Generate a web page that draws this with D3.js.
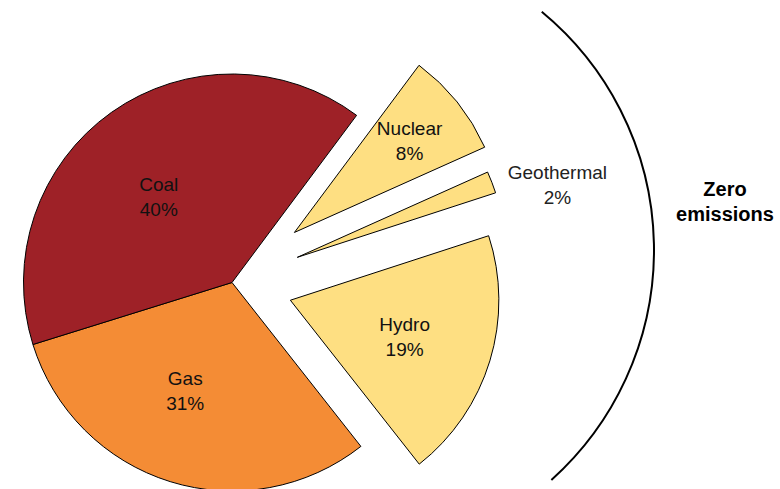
<!DOCTYPE html>
<html>
<head>
<meta charset="utf-8">
<script src="https://cdn.jsdelivr.net/npm/d3@7"></script>
<style>
  html, body { margin: 0; padding: 0; background: #fff; }
  svg { display: block; }
  text { font-family: "Liberation Sans", Arial, Helvetica, sans-serif; }
</style>
</head>
<body>
<svg id="chart" width="780" height="489"></svg>
<script>
// ---- data ----
const categories = ["Nuclear", "Geothermal", "Hydro", "Gas", "Coal"];
const shares = [8.1, 1.7, 19.4, 30.8, 40.0];
const zeroEmission = [true, true, true, false, false];
const groupLabel = ["Zero", "emissions"];

// ---- styling / layout ----
const W = 780, H = 489;
const cx = 232, cy = 282.5, R = 208.5;
const startDeg = 36.7;
const colors = { Coal: "#9e2127", Gas: "#f48c35", zero: "#fedf82" };
const explode = { Nuclear: 80, Geothermal: 70, Hydro: 61, Gas: 0, Coal: 0 };
const labelLayout = {
  Nuclear:    { r: 147, da: 0.3 },
  Geothermal: { r: 270, da: 5.5 },
  Hydro:      { r: 120, da: 0.9 },
  Gas:        { r: 118, da: 6.1 },
  Coal:       { r: 113, da: -5.1 }
};
const fontSize = 19, lineGap = 25;
const rad = d => d * Math.PI / 180;

const svg = d3.select("#chart");
const rows = categories.map((c, i) => ({ name: c, value: shares[i], zero: zeroEmission[i] }));

const pie = d3.pie().sort(null).value(d => d.value)
  .startAngle(rad(startDeg)).endAngle(rad(startDeg) + 2 * Math.PI);
const arcs = pie(rows);
const arcGen = d3.arc().innerRadius(0).outerRadius(R);

const g = svg.append("g").attr("transform", `translate(${cx},${cy})`);

const slice = g.selectAll("g.slice").data(arcs).join("g")
  .attr("class", "slice")
  .attr("transform", d => {
    const m = (d.startAngle + d.endAngle) / 2;
    const off = explode[d.data.name] || 0;
    return `translate(${off * Math.sin(m)},${-off * Math.cos(m)})`;
  });

slice.append("path")
  .attr("d", arcGen)
  .attr("fill", d => d.data.zero ? colors.zero : colors[d.data.name])
  .attr("stroke", "#000")
  .attr("stroke-width", 1)
  .attr("stroke-linejoin", "miter");

const fmt = v => Math.round(v) + "%";
slice.each(function(d) {
  const L = labelLayout[d.data.name];
  const a = (d.startAngle + d.endAngle) / 2 + rad(L.da);
  const x = L.r * Math.sin(a), y = -L.r * Math.cos(a);
  const t = d3.select(this).append("text")
    .attr("text-anchor", "middle")
    .attr("font-size", fontSize)
    .attr("fill", d.data.name === "Geothermal" ? "#222" : "#111");
  t.append("tspan").attr("x", x).attr("y", y - lineGap / 2 + fontSize * 0.35).text(d.data.name);
  t.append("tspan").attr("x", x).attr("y", y + lineGap / 2 + fontSize * 0.35).text(fmt(d.data.value));
});

// bracket arc around zero-emission group
const bcx = 345, bcy = 250, bR = 309;
const p = d3.path();
p.arc(bcx, bcy, bR, rad(-50.45), rad(48.1));
svg.append("path").attr("d", p.toString())
  .attr("fill", "none").attr("stroke", "#000").attr("stroke-width", 2);

const gt = svg.append("text")
  .attr("text-anchor", "middle")
  .attr("font-size", 20)
  .attr("font-weight", "bold")
  .attr("fill", "#000");
groupLabel.forEach((s, i) => {
  gt.append("tspan").attr("x", 725).attr("y", 189 + i * 25 + 20 * 0.35).text(s);
});
</script>
</body>
</html>
